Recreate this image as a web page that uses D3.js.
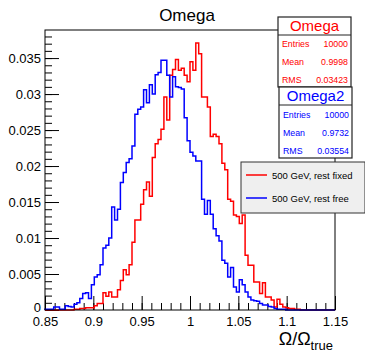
<!DOCTYPE html>
<html><head><meta charset="utf-8">
<script src="https://cdn.jsdelivr.net/npm/d3@7/dist/d3.min.js"></script>
<style>body{margin:0;background:#fff}svg{display:block;font-family:"Liberation Sans",Arial,Helvetica,sans-serif}</style>
</head><body><svg id="c" width="365" height="352"></svg>
<script>
const binLow = 0.85, binWidth = 0.003;
const redValues = [
0,0,0,0,0,0,0,0,0,0,
0.0001,0.0001,0.0002,0.0002,0.0003,0.0003,0.0003,0.0006,0.0009,0.0009,
0.0024,0.0019,0.0025,0.0018,0.0018,0.0028,0.0041,0.0056,0.0049,0.0063,
0.0094,0.0125,0.0125,0.0147,0.0167,0.0178,0.0158,0.0212,0.0231,0.0237,
0.0251,0.0296,0.0264,0.0326,0.0334,0.0348,0.0333,0.0336,0.0326,0.0317,
0.0345,0.0333,0.0371,0.0356,0.0296,0.0296,0.0282,0.0241,0.0244,0.0241,
0.0231,0.0204,0.0195,0.0154,0.0151,0.0132,0.0130,0.0120,0.0132,0.0076,
0.0062,0.0062,0.0039,0.0039,0.0023,0.0038,0.0018,0.0018,0.0014,0.0004,
0.0015,0.0008,0.0004,0.0003,0.0002,0.0002,0.0001,0.0001,0,0,
0,0,0,0,0,0,0,0,0,0];
const blueValues = [
0.0001,0.0001,0.0001,0.0004,0.0004,0.0001,0.0001,0.0006,0.0005,0.0004,
0.0008,0.0010,0.0016,0.0023,0.0024,0.0016,0.0035,0.0046,0.0049,0.0063,
0.0086,0.0090,0.0100,0.0143,0.0125,0.0140,0.0177,0.0191,0.0205,0.0210,
0.0228,0.0272,0.0279,0.0282,0.0306,0.0288,0.0313,0.0300,0.0327,0.0330,
0.0347,0.0347,0.0326,0.0296,0.0324,0.0310,0.0309,0.0307,0.0267,0.0235,
0.0219,0.0214,0.0207,0.0207,0.0154,0.0133,0.0152,0.0133,0.0113,0.0103,
0.0096,0.0069,0.0065,0.0046,0.0059,0.0032,0.0025,0.0042,0.0035,0.0025,
0.0018,0.0014,0.0013,0.0012,0.0009,0.0007,0.0007,0.0005,0.0004,0.0002,
0.0001,0.0001,0.0001,0,0,0,0,0,0,0,
0,0,0,0,0,0,0,0,0,0];
const xTickValues = [0.85,0.9,0.95,1,1.05,1.1,1.15];
const xTickLabels = ["0.85","0.9","0.95","1","1.05","1.1","1.15"];
const yTickValues = [0,0.005,0.01,0.015,0.02,0.025,0.03,0.035];
const yTickLabels = ["0","0.005","0.01","0.015","0.02","0.025","0.03","0.035"];
const statsRed = {title:"Omega", rows:[["Entries","10000"],["Mean","0.9998"],["RMS","0.03423"]]};
const statsBlue = {title:"Omega2", rows:[["Entries","10000"],["Mean","0.9732"],["RMS","0.03554"]]};
const legendLabels = ["500 GeV, rest fixed","500 GeV, rest free"];

const svg = d3.select("#c");
const L=45, R=335, T=30, B=310;
const x = d3.scaleLinear().domain([0.85,1.15]).range([L,R]);
const y = d3.scaleLinear().domain([0,0.0389]).range([B,T]);

// axes
const xMinor = d3.range(0.85,1.1501,0.01);
const yMinor = d3.range(0,0.0385,0.001);
svg.append("g").attr("transform",`translate(0,${B})`)
  .call(d3.axisBottom(x).tickValues(xMinor).tickSize(-7).tickFormat(""))
  .call(g=>g.select(".domain").remove());
svg.append("g").attr("transform",`translate(0,${B})`)
  .call(d3.axisBottom(x).tickValues(xTickValues).tickSize(-14).tickPadding(7)
     .tickFormat((d,i)=>xTickLabels[i]))
  .call(g=>g.select(".domain").remove())
  .call(g=>g.selectAll("text").attr("font-size",13).attr("fill","#000"));
svg.append("g").attr("transform",`translate(0,0)`).attr("transform",`translate(${L},0)`)
  .call(d3.axisLeft(y).tickValues(yMinor).tickSize(-7).tickFormat(""))
  .call(g=>g.select(".domain").remove());
svg.append("g").attr("transform",`translate(${L},0)`)
  .call(d3.axisLeft(y).tickValues(yTickValues).tickSize(-14).tickPadding(4)
     .tickFormat((d,i)=>yTickLabels[i]))
  .call(g=>g.select(".domain").remove())
  .call(g=>g.selectAll("text").attr("font-size",13).attr("fill","#000")
     .attr("dy",(d)=>d===0?"0.15em":"0.32em"));
svg.selectAll(".tick line").attr("stroke","#000");
svg.selectAll("g").attr("font-family",null);

// histograms
function stepPath(vals){
  const p = d3.path();
  p.moveTo(x(binLow), y(0));
  vals.forEach((v,i)=>{
    const x0 = x(binLow+i*binWidth), x1 = x(binLow+(i+1)*binWidth);
    p.lineTo(x0, y(v)); p.lineTo(x1, y(v));
  });
  p.lineTo(x(binLow+vals.length*binWidth), y(0));
  return p.toString();
}
svg.append("path").attr("d",stepPath(redValues)).attr("fill","none").attr("stroke","#ff0000").attr("stroke-width",1.5);
svg.append("path").attr("d",stepPath(blueValues)).attr("fill","none").attr("stroke","#0000ff").attr("stroke-width",1.5);

// frame
svg.append("rect").attr("x",L).attr("y",T).attr("width",R-L).attr("height",B-T)
  .attr("fill","none").attr("stroke","#000").attr("stroke-width",1);

// title
svg.append("text").attr("x",187).attr("y",21).attr("text-anchor","middle")
  .attr("font-size",17).text("Omega");

// stats boxes
function statsBox(s, bx, by, h, rowOff, color){
  const w=73, th=18;
  const g = svg.append("g");
  g.append("rect").attr("x",bx).attr("y",by).attr("width",w).attr("height",h)
    .attr("fill","#fff").attr("stroke","#222").attr("stroke-width",1.2);
  g.append("line").attr("x1",bx).attr("x2",bx+w).attr("y1",by+th).attr("y2",by+th).attr("stroke","#222");
  g.append("text").attr("x",bx+w/2).attr("y",by+14).attr("text-anchor","middle")
    .attr("font-size",15).attr("fill",color).text(s.title);
  s.rows.forEach((r,i)=>{
    const ty = by+rowOff+3.2+i*17.7;
    g.append("text").attr("x",bx+4).attr("y",ty).attr("font-size",8.8).attr("fill",color).text(r[0]);
    g.append("text").attr("x",bx+w-3).attr("y",ty).attr("text-anchor","end").attr("font-size",8.8).attr("fill",color).text(r[1]);
  });
}
statsBox(statsRed, 278, 17, 70, 27, "#ff0000");
statsBox(statsBlue, 279, 87, 71, 28, "#0000ff");

// legend
const lg = svg.append("g");
lg.append("rect").attr("x",241).attr("y",162).attr("width",124).attr("height",51)
  .attr("fill","#efefef").attr("stroke","#333");
[["#ff0000",175],["#0000ff",198]].forEach((c,i)=>{
  lg.append("line").attr("x1",246).attr("x2",267).attr("y1",c[1]).attr("y2",c[1])
    .attr("stroke",c[0]).attr("stroke-width",1.5);
  lg.append("text").attr("x",272).attr("y",c[1]+3.5).attr("font-size",9.5).text(legendLabels[i]);
});

// x title
const xt = svg.append("text").attr("x",333).attr("y",345).attr("text-anchor","end").attr("font-size",18);
xt.append("tspan").text("Ω/Ω");
xt.append("tspan").attr("font-size",13).attr("dy",5).text("true");
</script></body></html>
